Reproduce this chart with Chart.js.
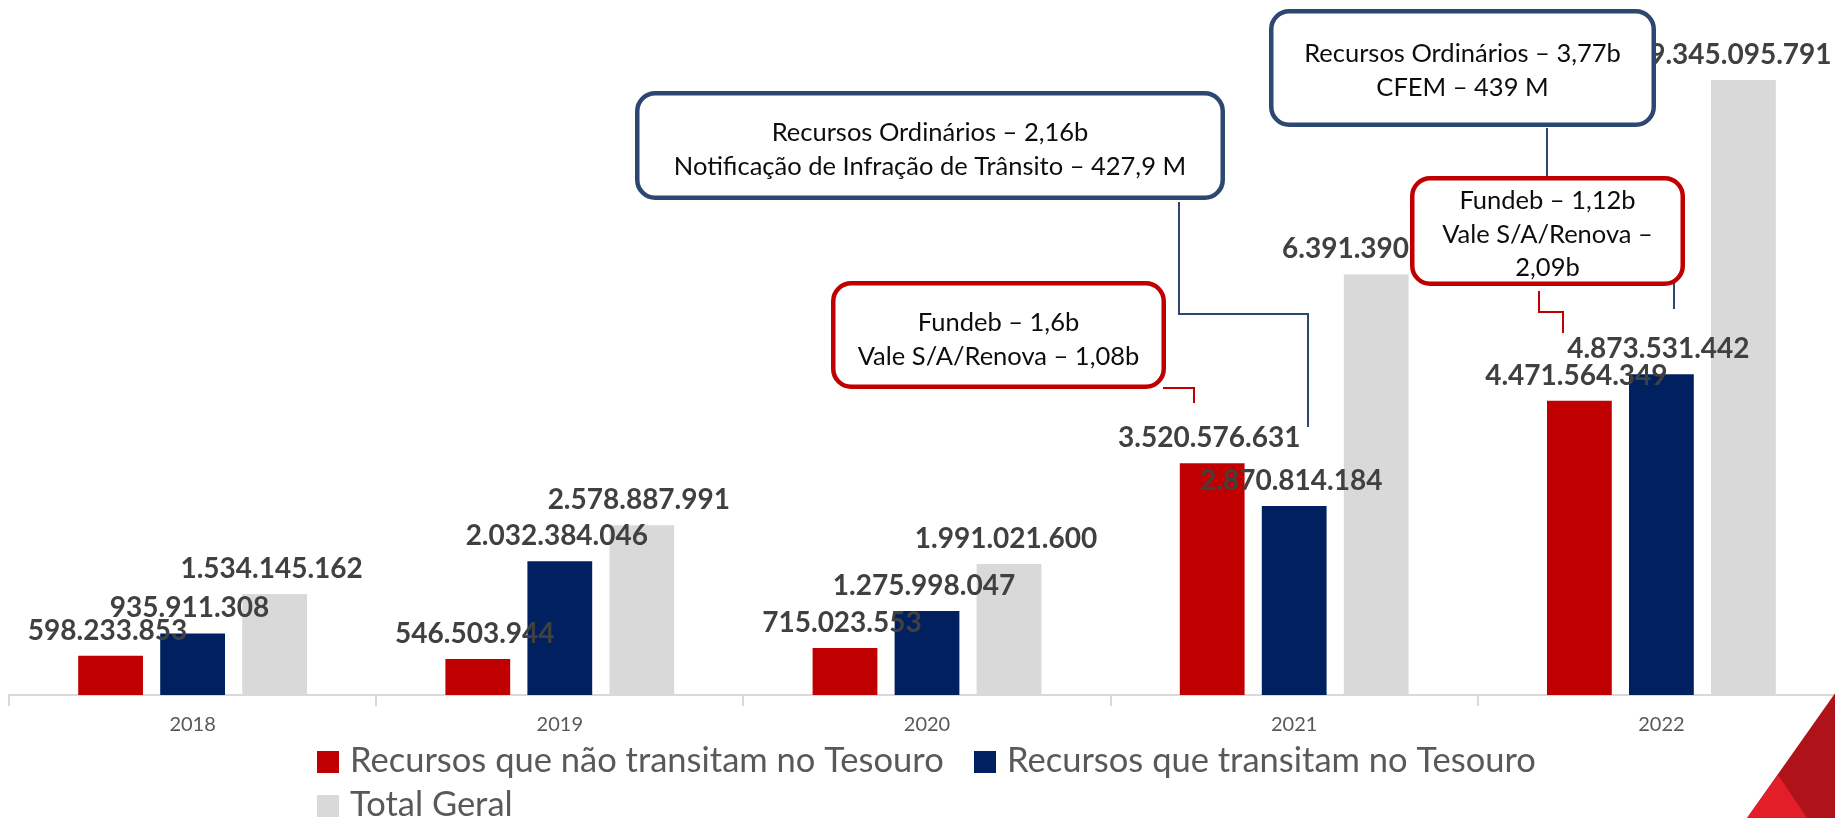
<!DOCTYPE html>
<html>
<head>
<meta charset="utf-8">
<script src="https://cdn.jsdelivr.net/npm/chart.js@4.4.0/dist/chart.umd.min.js"></script>
<style>
  html, body { margin: 0; padding: 0; background: #fff; overflow: hidden; }
  canvas { display: block; }
</style>
</head>
<body>
<canvas id="chart" width="1850" height="818"></canvas>
<script>
const years = ['2018', '2019', '2020', '2021', '2022'];
const foraTesouro = [598233853, 546503944, 715023553, 3520576631, 4471564349];
const noTesouro = [935911308, 2032384046, 1275998047, 2870814184, 4873531442];
const totalGeral = [1534145162, 2578887991, 1991021600, 6391390815, 9345095791];
const seriesNames = ['Recursos que não transitam no Tesouro', 'Recursos que transitam no Tesouro', 'Total Geral'];

const note2021Red = ['Fundeb – 1,6b', 'Vale S/A/Renova – 1,08b'];
const note2021Blue = ['Recursos Ordinários – 2,16b', 'Notificação de Infração de Trânsito – 427,9 M'];
const note2022Blue = ['Recursos Ordinários – 3,77b', 'CFEM – 439 M'];
const note2022Red = ['Fundeb – 1,12b', 'Vale S/A/Renova –', '2,09b'];

const red = '#C00000';
const navy = '#002060';
const grey = '#D9D9D9';
const noteNavy = '#2C4770';

Chart.defaults.font.family = 'Lato, "Open Sans", sans-serif';

const fmt = v => String(v).replace(/\B(?=(\d{3})+(?!\d))/g, '.');

// value labels on top of every bar, drawn after all bars
const valueLabels = {
    id: 'valueLabels',
    afterDatasetsDraw(chart) {
        const ctx = chart.ctx;
        ctx.save();
        ctx.font = 'bold 28px Lato';
        ctx.fillStyle = '#404040';
        ctx.textAlign = 'center';
        ctx.textBaseline = 'alphabetic';
        chart.data.datasets.forEach((ds, i) => {
            chart.getDatasetMeta(i).data.forEach((bar, j) => {
                ctx.fillText(fmt(ds.data[j]), bar.x - 3, bar.y - 16);
            });
        });
        ctx.restore();
    }
};

function polyline(ctx, pts, color) {
    ctx.beginPath();
    ctx.moveTo(pts[0][0], pts[0][1]);
    pts.slice(1).forEach(p => ctx.lineTo(p[0], p[1]));
    ctx.lineWidth = 2;
    ctx.strokeStyle = color;
    ctx.stroke();
}

function noteBox(ctx, x1, y1, x2, y2, color, lines, firstY) {
    const w = 4.5;
    ctx.beginPath();
    ctx.roundRect(x1 + w / 2, y1 + w / 2, x2 - x1 - w, y2 - y1 - w, 18);
    ctx.fillStyle = '#fff';
    ctx.fill();
    ctx.lineWidth = w;
    ctx.strokeStyle = color;
    ctx.stroke();
    ctx.font = '25.5px Lato';
    ctx.fillStyle = '#0D0D0D';
    ctx.textAlign = 'center';
    ctx.textBaseline = 'alphabetic';
    lines.forEach((t, i) => ctx.fillText(t, (x1 + x2) / 2, firstY + i * 33.5 + 9));
}

// callouts, legend and the slide corner
const extras = {
    id: 'extras',
    afterDraw(chart) {
        const ctx = chart.ctx;
        ctx.save();

        polyline(ctx, [[1179, 202], [1179, 314], [1308, 314], [1308, 427]], noteNavy);
        polyline(ctx, [[1547, 128], [1547, 230], [1674, 230], [1674, 309]], noteNavy);
        polyline(ctx, [[1163, 388], [1194, 388], [1194, 403]], red);
        polyline(ctx, [[1539, 291], [1539, 312], [1563, 312], [1563, 333]], red);

        noteBox(ctx, 635, 91, 1225, 200, noteNavy, note2021Blue, 132);
        noteBox(ctx, 1269, 9, 1656, 127, noteNavy, note2022Blue, 53);
        noteBox(ctx, 831, 281, 1166, 389, red, note2021Red, 322);
        noteBox(ctx, 1410, 176, 1685, 286, red, note2022Red, 200);

        // legend
        const spots = [[317, 751], [974, 751], [317, 795]];
        ctx.font = '34.5px Lato';
        ctx.textAlign = 'left';
        chart.data.datasets.forEach((ds, i) => {
            const [x, y] = spots[i];
            ctx.fillStyle = ds.backgroundColor;
            ctx.fillRect(x, y, 22, 22);
            ctx.fillStyle = '#595959';
            ctx.fillText(ds.label, x + 33, y + 21);
        });

        // red corner shape of the slide
        ctx.fillStyle = '#B0121A';
        ctx.beginPath();
        ctx.moveTo(1850, 672); ctx.lineTo(1850, 818); ctx.lineTo(1747, 818);
        ctx.closePath(); ctx.fill();
        ctx.fillStyle = '#E41E29';
        ctx.beginPath();
        ctx.moveTo(1778, 775); ctx.lineTo(1807, 818); ctx.lineTo(1747, 818);
        ctx.closePath(); ctx.fill();

        ctx.restore();
    }
};

new Chart(document.getElementById('chart'), {
    type: 'bar',
    data: {
        labels: years,
        datasets: [
            { label: seriesNames[0], data: foraTesouro, backgroundColor: red },
            { label: seriesNames[1], data: noTesouro, backgroundColor: navy },
            { label: seriesNames[2], data: totalGeral, backgroundColor: grey },
        ]
    },
    options: {
        responsive: false,
        animation: false,
        layout: { padding: { left: 9, right: 5, top: 37, bottom: 0 } },
        datasets: { bar: { categoryPercentage: 0.67, barPercentage: 0.79 } },
        plugins: { legend: { display: false }, tooltip: { enabled: false } },
        scales: {
            x: {
                afterFit: s => { s.height = 123; },
                border: { color: grey, width: 2 },
                grid: { drawOnChartArea: false, drawTicks: true, tickLength: 11, color: grey, lineWidth: 2 },
                ticks: { color: '#595959', font: { size: 20 }, padding: 7 }
            },
            y: { display: false, min: 0, max: 10000000000 }
        }
    },
    plugins: [valueLabels, extras]
});
</script>
</body>
</html>
